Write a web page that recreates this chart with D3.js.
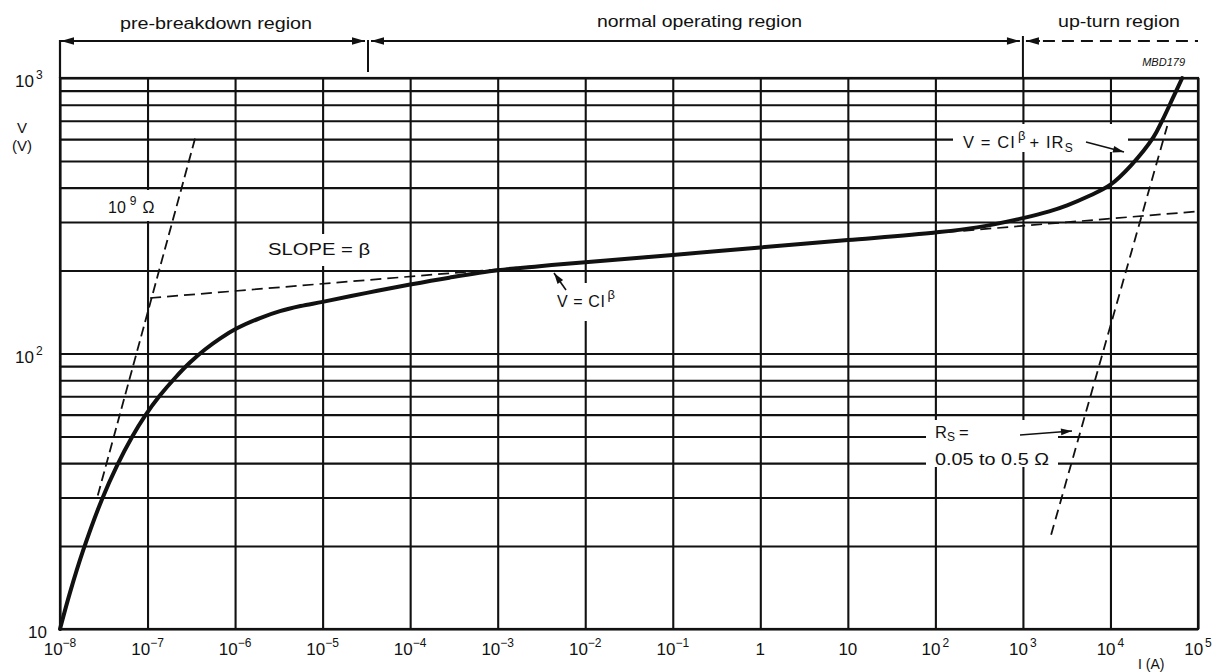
<!DOCTYPE html>
<html><head><meta charset="utf-8">
<script src="https://cdn.jsdelivr.net/npm/d3@7"></script>
<style>
body{margin:0;background:#fff}
svg{display:block}
text{font-family:"Liberation Sans",Arial,Helvetica,sans-serif;fill:#111}
</style>
</head><body>
<svg id="chart" width="1221" height="672"></svg>
<script>
// ---------- data ----------
const xTicks = [1e-8,1e-7,1e-6,1e-5,1e-4,1e-3,1e-2,1e-1,1,10,100,1e3,1e4,1e5];
const xTickBase = ["10","10","10","10","10","10","10","10","1","10","10","10","10","10"];
const xTickExp  = ["−8","−7","−6","−5","−4","−3","−2","−1","","","2","3","4","5"];
const yGrid = [10,20,30,40,50,60,70,80,90,100,200,300,400,500,600,700,800,900,1000];
const yTicks = [10,100,1000];
const yTickBase = ["10","10","10"];
const yTickExp  = ["","2","3"];

// main V-I characteristic (thick curve)
const curveI = [1e-8,1.3e-8,1.83e-8,3.02e-8,4.48e-8,6.65e-8,9.35e-8,1.39e-7,2.06e-7,3.05e-7,4.53e-7,6.72e-7,1.05e-6,1.93e-6,3.26e-6,5.6e-6,1e-5,3.2e-5,1e-4,2.8e-4,1e-3,3e-3,1e-2,1e-1,1,10,100,300,1e3,2e3,3.2e3,5.6e3,1e4,1.7e4,3.1e4,3.9e4,5.2e4,6.6e4];
const curveV = [10,13.55,19.2,29.6,39.2,49.8,59.4,70.5,81.5,92.7,103.4,113.3,123.4,134.5,142.5,148.7,154,166,178,188.5,200.5,207.5,214.6,228,242.6,258,275,287,310,328,345,372,410,480,610,700,850,1000];

// dashed construction lines
const ohm9I = [2.7e-8, 3.5e-7];   const ohm9V = [30.5, 605];   // 10^9 ohm line
const slopeI = [1.07e-7, 1e5];    const slopeV = [159, 328];   // V = C I^beta
const rsI = [2.1e3, 4.45e4];      const rsV = [22, 670];       // Rs line

const regionBounds = [1e-8, 3.3e-5, 1e3, 1e5];
const regionNames = ["pre-breakdown region","normal operating region","up-turn region"];

// ---------- chart ----------
const svg = d3.select("#chart");
const L = 60, R = 1198, T = 78, B = 629;
const x = d3.scaleLog().domain([1e-8,1e5]).range([L,R]);
const y = d3.scaleLog().domain([10,1000]).range([B,T]);
const ink = "#111";

svg.append("rect").attr("width",1221).attr("height",672).attr("fill","#fff");

// grid via axes
const gx = svg.append("g").attr("transform",`translate(0,${B})`)
  .call(d3.axisBottom(x).tickValues(xTicks).tickSize(-(B-T)).tickFormat(""));
const gy = svg.append("g").attr("transform",`translate(${L},0)`)
  .call(d3.axisLeft(y).tickValues(yGrid).tickSize(-(R-L)).tickFormat(""));
[gx,gy].forEach(g=>{
  g.select(".domain").remove();
  g.selectAll(".tick line").attr("stroke",ink).attr("stroke-width",2.1);
});
svg.append("rect").attr("x",L).attr("y",T).attr("width",R-L).attr("height",B-T)
  .attr("fill","none").attr("stroke",ink).attr("stroke-width",2.2);

// white label backgrounds (gridlines interrupted behind labels)
const boxes = [[100,190,68,31],[262,234,114,32],[550,283,90,38],[953,124,175,28],[926,420,132,47]];
svg.append("g").selectAll("rect").data(boxes).join("rect")
  .attr("x",d=>d[0]).attr("y",d=>d[1]).attr("width",d=>d[2]).attr("height",d=>d[3]).attr("fill","#fff");

// tick labels
const xl = svg.append("g");
xTicks.forEach((t,i)=>{
  const tx = xl.append("text").attr("x",x(t)).attr("y",655).attr("text-anchor","middle").attr("font-size",17);
  tx.append("tspan").text(xTickBase[i]);
  if (xTickExp[i]) tx.append("tspan").attr("dx", i>=10?2:0).attr("dy",-8).attr("font-size",12).text(xTickExp[i]);
});
const yl = svg.append("g");
yTicks.forEach((t,i)=>{
  const tx = yl.append("text").attr("x",yTickExp[i]?15:28).attr("y",y(t)+9).attr("font-size",17);
  tx.append("tspan").text(yTickBase[i]);
  if (yTickExp[i]) tx.append("tspan").attr("dx",2).attr("dy",-8).attr("font-size",12).text(yTickExp[i]);
});
svg.append("text").attr("x",22).attr("y",133).attr("text-anchor","middle").attr("font-size",15).text("V");
svg.append("text").attr("x",22).attr("y",151).attr("text-anchor","middle").attr("font-size",15).text("(V)");
svg.append("text").attr("x",1138).attr("y",669).attr("font-size",14).text("I (A)");
svg.append("text").attr("x",1185).attr("y",66).attr("text-anchor","end").attr("font-size",11)
  .attr("font-style","italic").text("MBD179");

// helper: filled arrow head
function head(x0,y0,x1,y1,len=11,w=3.6){
  const a = Math.atan2(y1-y0,x1-x0);
  const bx = x1-len*Math.cos(a), by = y1-len*Math.sin(a);
  const px = -Math.sin(a)*w, py = Math.cos(a)*w;
  svg.append("path").attr("d",`M${x1},${y1}L${bx+px},${by+py}L${bx-px},${by-py}Z`).attr("fill",ink);
}
function arrow(x0,y0,x1,y1){
  svg.append("line").attr("x1",x0).attr("y1",y0).attr("x2",x1).attr("y2",y1)
    .attr("stroke",ink).attr("stroke-width",1.6);
  head(x0,y0,x1,y1,11,3.4);
}

// region brackets on top
const by = 41;
const bx = regionBounds.map(d=>x(d));
svg.append("line").attr("x1",bx[0]).attr("x2",bx[0]).attr("y1",40).attr("y2",T).attr("stroke",ink).attr("stroke-width",2.2);
svg.append("line").attr("x1",bx[1]).attr("x2",bx[1]).attr("y1",40).attr("y2",72).attr("stroke",ink).attr("stroke-width",2);
svg.append("line").attr("x1",bx[2]).attr("x2",bx[2]).attr("y1",36).attr("y2",T).attr("stroke",ink).attr("stroke-width",2);
// pre-breakdown
svg.append("line").attr("x1",bx[0]+1).attr("x2",bx[1]-3).attr("y1",by).attr("y2",by).attr("stroke",ink).attr("stroke-width",2);
head(bx[0]+20,by,bx[0]+1,by,13,3.8); head(bx[1]-20,by,bx[1]-3,by,13,3.8);
// normal
svg.append("line").attr("x1",bx[1]+3).attr("x2",bx[2]-3).attr("y1",by).attr("y2",by).attr("stroke",ink).attr("stroke-width",2);
head(bx[1]+20,by,bx[1]+3,by,13,3.8); head(bx[2]-20,by,bx[2]-3,by,13,3.8);
// up-turn
svg.append("line").attr("x1",bx[2]+3).attr("x2",bx[2]+17).attr("y1",by).attr("y2",by).attr("stroke",ink).attr("stroke-width",2);
head(bx[2]+20,by,bx[2]+3,by,13,3.8);
svg.append("line").attr("x1",bx[2]+20).attr("x2",bx[3]).attr("y1",by).attr("y2",by)
  .attr("stroke",ink).attr("stroke-width",2).attr("stroke-dasharray","12,7");
const rl = [[120,29,192],[597,27,205],[1058,27,122]];
regionNames.forEach((n,i)=>{
  svg.append("text").attr("x",rl[i][0]).attr("y",rl[i][1]).attr("font-size",16)
    .attr("textLength",rl[i][2]).attr("lengthAdjust","spacingAndGlyphs").text(n);
});

// dashed construction lines
const line = d3.line().x(d=>x(d[0])).y(d=>y(d[1]));
function dashed(I,V,dash,w){
  svg.append("path").datum(I.map((d,i)=>[d,V[i]])).attr("d",line)
    .attr("fill","none").attr("stroke",ink).attr("stroke-width",w).attr("stroke-dasharray",dash);
}
dashed(ohm9I,ohm9V,"10,5",1.8);
dashed(slopeI,slopeV,"11,6",1.7);
dashed(rsI,rsV,"10,6",1.8);

// main curve
const cl = d3.line().x(d=>x(d[0])).y(d=>y(d[1])).curve(d3.curveCatmullRom.alpha(0.5));
svg.append("path").datum(curveI.map((d,i)=>[d,curveV[i]])).attr("d",cl)
  .attr("fill","none").attr("stroke",ink).attr("stroke-width",4).attr("stroke-linejoin","round").attr("stroke-linecap","round");

// annotations
let t = svg.append("text").attr("x",108).attr("y",213).attr("font-size",16);
t.append("tspan").text("10"); t.append("tspan").attr("dx",4).attr("dy",-8).attr("font-size",12).text("9");
t.append("tspan").attr("dx",6).attr("dy",8).text("Ω");

svg.append("text").attr("x",268).attr("y",255).attr("font-size",16)
  .attr("textLength",102).attr("lengthAdjust","spacingAndGlyphs").text("SLOPE = β");

t = svg.append("text").attr("x",557).attr("y",307).attr("font-size",16).attr("letter-spacing",0.6);
t.append("tspan").text("V = CI"); t.append("tspan").attr("dx",2).attr("dy",-8).attr("font-size",13).text("β");
arrow(566,290,554,273);

t = svg.append("text").attr("x",963).attr("y",148).attr("font-size",16.5).attr("letter-spacing",1.1);
t.append("tspan").text("V = CI"); t.append("tspan").attr("dx",2).attr("dy",-8).attr("font-size",13).text("β");
t.append("tspan").attr("dx",3).attr("dy",8).text("+ IR");
t.append("tspan").attr("dy",4).attr("font-size",12).text("S");
arrow(1086,142,1124,152);

t = svg.append("text").attr("x",935).attr("y",438).attr("font-size",16.5);
t.append("tspan").text("R"); t.append("tspan").attr("dy",3).attr("font-size",12).text("S");
t.append("tspan").attr("dx",4).attr("dy",-3).text("=");
svg.append("text").attr("x",935).attr("y",465).attr("font-size",16.5)
  .attr("textLength",114).attr("lengthAdjust","spacingAndGlyphs").text("0.05 to 0.5 Ω");
arrow(1020,435,1072,431);
</script>
</body></html>
